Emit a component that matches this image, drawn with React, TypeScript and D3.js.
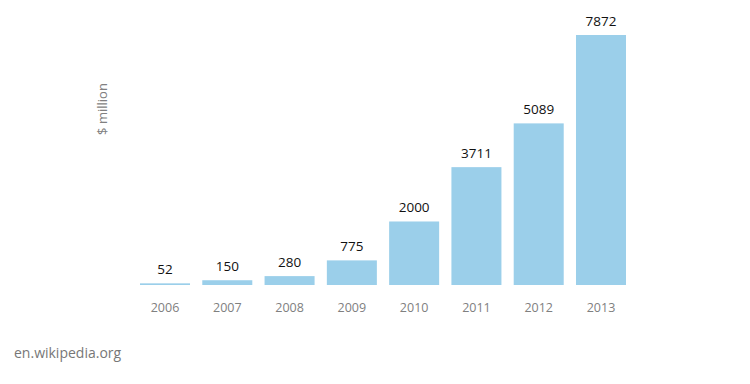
import React from "react";
import * as d3 from "d3";

const years = ["2006", "2007", "2008", "2009", "2010", "2011", "2012", "2013"];
const values = [52, 150, 280, 775, 2000, 3711, 5089, 7872];
const yLabel = "$ million";
const source = "en.wikipedia.org";

const W = 750;
const H = 384;
const FONT = "'Open Sans', 'DejaVu Sans', sans-serif";

export default function App() {
  const x = d3.scaleBand<string>().domain(years).range([140, 626]).paddingInner(0.197).paddingOuter(0);
  const y = d3.scaleLinear().domain([0, 7872]).range([285, 35]);
  return (
    <div style={{ position: "absolute", left: 0, top: 0 }}>
      <svg width={W} height={H} style={{ display: "block", background: "#fff" }}>
        {years.map((yr, i) => (
          <g key={yr}>
            <rect x={x(yr)} y={y(values[i])} width={x.bandwidth()} height={285 - y(values[i])} fill="#9BCFEA" />
            <text x={(x(yr) as number) + x.bandwidth() / 2} y={y(values[i]) - 9} textAnchor="middle" fontFamily={FONT} fontSize={13.5} fill="#111">
              {values[i]}
            </text>
            <text x={(x(yr) as number) + x.bandwidth() / 2} y={312} textAnchor="middle" fontFamily={FONT} fontSize={12.5} fill="#808080">
              {yr}
            </text>
          </g>
        ))}
        <text transform="translate(107,109) rotate(-90)" textAnchor="middle" fontFamily={FONT} fontSize={13} fill="#808080">
          {yLabel}
        </text>
        <text x={14} y={358} fontFamily={FONT} fontSize={14} fill="#777">
          {source}
        </text>
      </svg>
    </div>
  );
}
